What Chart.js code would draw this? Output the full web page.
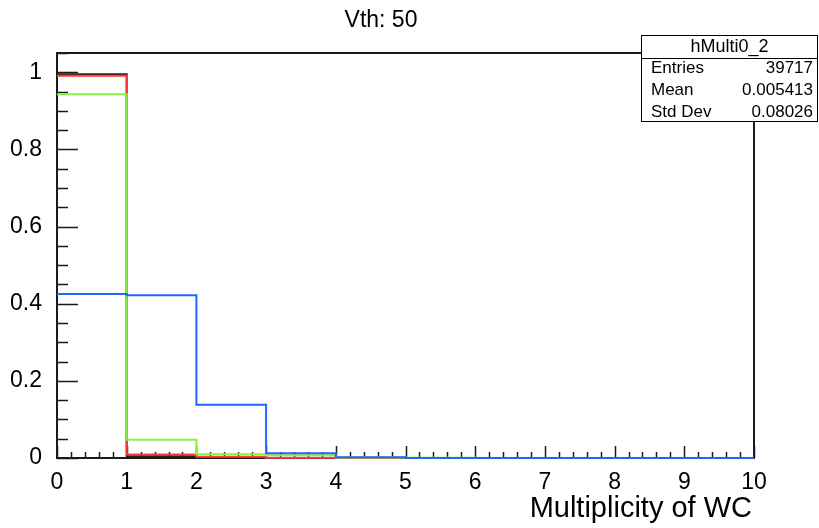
<!DOCTYPE html>
<html>
<head>
<meta charset="utf-8">
<title>Vth: 50</title>
<script src="https://cdn.jsdelivr.net/npm/chart.js@4.4.1/dist/chart.umd.min.js"></script>
<style>
  html, body { margin: 0; padding: 0; background: #fff; }
  #wrap { width: 819px; height: 528px; }
</style>
</head>
<body>
<div id="wrap"><canvas id="c" width="819" height="528"></canvas></div>
<script>
// bin edges of the multiplicity histograms (10 bins, width 1)
const binEdges = [0, 1, 2, 3, 4, 5, 6, 7, 8, 9, 10];

// normalised bin contents, one list per histogram
const multBlack = [0.995, 0.0044, 0.0006, 0, 0, 0, 0, 0, 0, 0];
const multRed   = [0.991, 0.0090, 0.0035, 0.0008, 0.0002, 0, 0, 0, 0, 0];
const multGreen = [0.943, 0.0470, 0.0100, 0.0070, 0.0012, 0.0008, 0, 0, 0, 0];
const multBlue  = [0.425, 0.4220, 0.1380, 0.0125, 0.0018, 0.0002, 0, 0, 0, 0];

const xTickValues = [0, 1, 2, 3, 4, 5, 6, 7, 8, 9, 10];
const yTickValues = [0, 0.2, 0.4, 0.6, 0.8, 1];

const statsRows = [
  ['Entries', '39717'],
  ['Mean', '0.005413'],
  ['Std Dev', '0.08026']
];

const FONT = '"Liberation Sans", Arial, Helvetica, sans-serif';

// step outline over the bins; the outer edges are left to the frame
function histPoints(values) {
  const last = binEdges.length - 1;
  const pts = values.map((v, i) => ({ x: binEdges[i], y: v }));
  pts.push({ x: binEdges[last], y: values[values.length - 1] });
  return pts;
}

// higher order = drawn earlier (underneath)
function histDataset(label, values, color, order) {
  return {
    label: label,
    data: histPoints(values),
    borderColor: color,
    borderWidth: 2,
    pointRadius: 0,
    fill: false,
    stepped: true,
    clip: 4,
    order: order
  };
}

// frame with inward ticks, drawn under the histograms
const frameTicks = {
  id: 'frameTicks',
  beforeDatasetsDraw(chart) {
    const { ctx, chartArea: a, scales: { x, y } } = chart;
    ctx.save();
    ctx.strokeStyle = '#1a1a1a';
    ctx.lineWidth = 1.5;
    ctx.beginPath();
    // x axis: major every 1, minor every 0.2
    for (let i = 0; i <= 50; i++) {
      const v = i * 0.2;
      const px = Math.round(x.getPixelForValue(v)) + 0.5;
      const len = i % 5 === 0 ? 12 : 6;
      ctx.moveTo(px, a.bottom);
      ctx.lineTo(px, a.bottom - len);
    }
    // y axis: major every 0.2, minor every 0.05
    for (let i = 0; i <= 21; i++) {
      const v = i * 0.05;
      const py = Math.round(y.getPixelForValue(v)) + 0.5;
      const len = i % 4 === 0 ? 21 : 11;
      ctx.moveTo(a.left, py);
      ctx.lineTo(a.left + len, py);
    }
    ctx.stroke();
    ctx.lineWidth = 2;
    ctx.strokeRect(a.left, a.top, a.right - a.left, a.bottom - a.top);
    ctx.restore();
  },
  afterDraw(chart) {
    const { ctx, chartArea: a } = chart;
    ctx.save();
    ctx.fillStyle = '#000';

    // pad title
    ctx.font = '23px ' + FONT;
    ctx.textAlign = 'center';
    ctx.textBaseline = 'alphabetic';
    ctx.fillText('Vth: 50', 381, 27);

    // x axis title, right aligned to the frame
    ctx.font = '29px ' + FONT;
    ctx.textAlign = 'right';
    ctx.fillText('Multiplicity of WC', a.right - 2, 517);

    // statistics box
    const bx = 641.5, by = 35.5, bw = 176, bh = 86;
    ctx.fillStyle = '#fff';
    ctx.fillRect(bx, by, bw, bh);
    ctx.strokeStyle = '#000';
    ctx.lineWidth = 1;
    ctx.strokeRect(bx, by, bw, bh);
    ctx.beginPath();
    ctx.moveTo(bx, 58.5);
    ctx.lineTo(bx + bw, 58.5);
    ctx.stroke();

    ctx.fillStyle = '#000';
    ctx.textBaseline = 'middle';
    ctx.font = '18px ' + FONT;
    ctx.textAlign = 'center';
    ctx.fillText('hMulti0_2', bx + bw / 2, 47);
    ctx.font = '17px ' + FONT;
    statsRows.forEach((row, i) => {
      const ry = 68 + i * 22;
      ctx.textAlign = 'left';
      ctx.fillText(row[0], 651, ry);
      ctx.textAlign = 'right';
      ctx.fillText(row[1], 813, ry);
    });
    ctx.restore();
  }
};

new Chart(document.getElementById('c'), {
  type: 'line',
  data: {
    datasets: [
      histDataset('hMulti0_2', multBlack, '#222222', 4),
      histDataset('red', multRed, '#ff3b3b', 3),
      histDataset('green', multGreen, '#86f23c', 2),
      histDataset('blue', multBlue, '#2266ff', 1)
    ]
  },
  options: {
    responsive: false,
    animation: false,
    devicePixelRatio: 1,
    layout: { padding: { top: 53, right: 65, left: 0, bottom: 0 } },
    plugins: { legend: { display: false }, tooltip: { enabled: false }, title: { display: false } },
    scales: {
      x: {
        type: 'linear',
        min: 0,
        max: 10,
        afterBuildTicks: s => { s.ticks = xTickValues.map(v => ({ value: v })); },
        afterFit: s => { s.height = 70; },
        grid: { display: false },
        border: { display: false },
        ticks: {
          color: '#000',
          padding: 3,
          maxRotation: 0,
          autoSkip: false,
          font: { family: FONT, size: 23 },
          callback: v => String(v)
        }
      },
      y: {
        type: 'linear',
        min: 0,
        max: 1.05,
        afterBuildTicks: s => { s.ticks = yTickValues.map(v => ({ value: v })); },
        afterFit: s => { s.width = 57; },
        grid: { display: false },
        border: { display: false },
        ticks: {
          color: '#000',
          padding: 7,
          autoSkip: false,
          font: { family: FONT, size: 23 },
          callback: v => String(v)
        }
      }
    }
  },
  plugins: [frameTicks]
});
</script>
</body>
</html>
